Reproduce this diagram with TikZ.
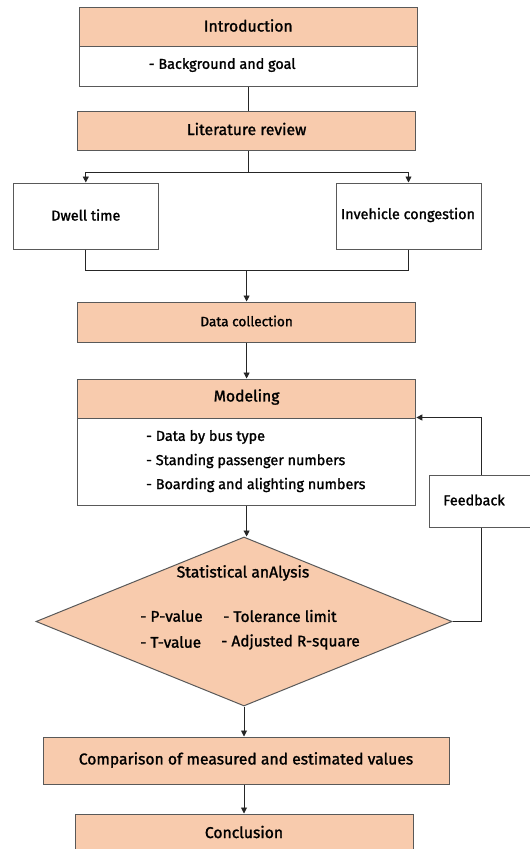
\documentclass[tikz,border=0pt]{standalone}
\usepackage{fontspec}
\setmainfont{Fira Sans}[FakeBold=1.4]
\usetikzlibrary{arrows.meta,shapes.geometric}
\definecolor{peach}{HTML}{F8CBAD}
\definecolor{edge}{HTML}{595959}
\tikzset{
  box/.style={draw=edge,line width=1pt,minimum width=#1,inner sep=0pt},
  pbox/.style={box=#1,fill=peach},
  lbl/.style={inner sep=0pt,font=\fontsize{14.4}{16}\selectfont},
  hdr/.style={inner sep=0pt,font=\fontsize{15.7}{18}\selectfont},
  itm/.style={inner sep=0pt,font=\fontsize{15.4}{18}\selectfont},
  conn/.style={draw=black!85,line width=0.9pt},
  arr/.style={conn,-{Triangle[length=6pt,width=6pt]}}
}
\begin{document}
\begin{tikzpicture}[x=1pt,y=-1pt]
\useasboundingbox (0,0) rectangle (530,849);
% boxes
\node[pbox=338.6pt,minimum height=39pt] (introh) at (248.3,26.5) {};
\node[box=338.6pt,minimum height=40pt,fill=white] (introb) at (248.3,66) {};
\node[pbox=337.8pt,minimum height=39pt] (lit) at (246.6,130.5) {};
\node[box=144.5pt,minimum height=66pt,fill=white] (dwell) at (85.8,216) {};
\node[box=145pt,minimum height=66pt,fill=white] (inv) at (408.5,216) {};
\node[pbox=337.8pt,minimum height=40pt] (data) at (246.6,322) {};
\node[pbox=338.5pt,minimum height=39pt] (modh) at (246.6,398.5) {};
\node[box=338.5pt,minimum height=87pt,fill=white] (modb) at (246.6,461.5) {};
\node[box=104pt,minimum height=52pt,fill=white] (fb) at (481,501) {};
\node[draw=edge,line width=1pt,fill=peach,shape=diamond,minimum width=416pt,minimum height=169pt,inner sep=0pt] (dia) at (244,621.5) {};
\node[pbox=406pt,minimum height=47pt] (comp) at (246,760.5) {};
\node[pbox=338pt,minimum height=38pt] (concl) at (244,833) {};
% texts
\node[hdr] (tintro) at (248.3,25.5) {Introduction};
\node[lbl,anchor=west] (tbg) at (148.6,65) {- Background and goal};
\node[hdr] (tlit) at (246.6,129) {Literature review};
\node[lbl] (tdwell) at (85.8,215) {Dwell time};
\node[lbl] (tinv) at (408,215) {Invehicle congestion};
\node[inner sep=0pt,font=\fontsize{13.6}{16}\selectfont] (tdata) at (246.6,321) {Data collection};
\node[hdr] (tmod) at (246.6,397) {Modeling};
\node[lbl,anchor=west] (tm1) at (146,437) {- Data by bus type};
\node[lbl,anchor=west] (tm2) at (146,461) {- Standing passenger numbers};
\node[lbl,anchor=west] (tm3) at (146,485) {- Boarding and alighting numbers};
\node[lbl] (tfb) at (474,500) {Feedback};
\node[hdr] (tstat) at (243,573) {Statistical anAlysis};
\node[itm,anchor=west] (tp) at (140,616) {- P-value};
\node[itm,anchor=west] (ttol) at (223,616) {- Tolerance limit};
\node[itm,anchor=west] (tt) at (140,642) {- T-value};
\node[itm,anchor=west] (tadj) at (221,642) {- Adjusted R-square};
\node[hdr] (tcomp) at (246,760) {Comparison of measured and estimated values};
\node[hdr] (tconcl) at (244,832) {Conclusion};
% connectors
\coordinate (split) at (248.3,172);
\coordinate (merge) at (246.6,270);
\draw[conn] (introb.south) -- (introb.south |- lit.north);
\draw[conn] (introb.south |- lit.south) -- (split);
\draw[arr] (split) -| (dwell.north);
\draw[arr] (split) -| (inv.north);
\draw[conn] (dwell.south) |- (merge);
\draw[conn] (inv.south) |- (merge);
\draw[arr] (merge) -- (data.north);
\draw[arr] (data.south) -- (modh.north);
\draw[arr] (modb.south) -- (modb.south |- dia.north);
\draw[conn] (dia.east) -| (fb.south);
\draw[arr] (fb.north) |- (modb.north east);
\draw[arr] (dia.south) -- (dia.south |- comp.north);
\draw[arr] (dia.south |- comp.south) -- (dia.south |- concl.north);
\end{tikzpicture}
\end{document}
